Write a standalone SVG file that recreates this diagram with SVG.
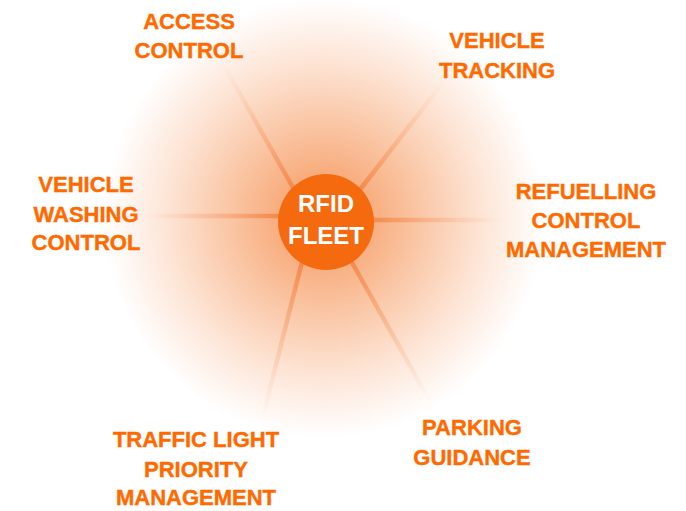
<svg xmlns="http://www.w3.org/2000/svg" width="686" height="511" viewBox="0 0 686 511">
<defs>
<radialGradient id="glow" cx="324" cy="218" r="220" gradientUnits="userSpaceOnUse">
<stop offset="0" stop-color="#F69456"/>
<stop offset="0.22" stop-color="#F8AE80"/>
<stop offset="0.45" stop-color="#FAC8A8"/>
<stop offset="0.7" stop-color="#FDE3D3"/>
<stop offset="0.88" stop-color="#FEF4EE"/>
<stop offset="1" stop-color="#FFFFFF"/>
</radialGradient>
<linearGradient id="gA" gradientUnits="userSpaceOnUse" x1="300" y1="200" x2="222" y2="62"><stop offset="0" stop-color="#F27A35" stop-opacity="0.85"/><stop offset="1" stop-color="#F9C09E" stop-opacity="0"/></linearGradient>
<linearGradient id="gB" gradientUnits="userSpaceOnUse" x1="352" y1="200" x2="445" y2="80"><stop offset="0" stop-color="#F27A35" stop-opacity="0.85"/><stop offset="1" stop-color="#F9C09E" stop-opacity="0"/></linearGradient>
<linearGradient id="gC" gradientUnits="userSpaceOnUse" x1="360" y1="220" x2="508" y2="220"><stop offset="0" stop-color="#F27A35" stop-opacity="0.85"/><stop offset="1" stop-color="#F9C09E" stop-opacity="0"/></linearGradient>
<linearGradient id="gD" gradientUnits="userSpaceOnUse" x1="290" y1="216" x2="140" y2="216"><stop offset="0" stop-color="#F27A35" stop-opacity="0.85"/><stop offset="1" stop-color="#F9C09E" stop-opacity="0"/></linearGradient>
<linearGradient id="gE" gradientUnits="userSpaceOnUse" x1="345" y1="250" x2="432" y2="405"><stop offset="0" stop-color="#F27A35" stop-opacity="0.85"/><stop offset="1" stop-color="#F9C09E" stop-opacity="0"/></linearGradient>
<linearGradient id="gF" gradientUnits="userSpaceOnUse" x1="305" y1="250" x2="262" y2="420"><stop offset="0" stop-color="#F27A35" stop-opacity="0.85"/><stop offset="1" stop-color="#F9C09E" stop-opacity="0"/></linearGradient>
</defs>
<style>
.lbl{font-family:"Liberation Sans",Arial,sans-serif;font-weight:bold;font-size:22px;fill:#FF6A00;stroke:#FF6A00;stroke-width:0.4;text-anchor:middle}
.ctr{font-family:"Liberation Sans",Arial,sans-serif;font-weight:bold;font-size:24px;fill:#FFFFFF;text-anchor:middle}
.spoke{stroke-width:4.5;stroke-linecap:round;fill:none}
</style>
<rect width="686" height="511" fill="#FFFFFF"/>
<circle cx="324" cy="218" r="220" fill="url(#glow)"/>
<g id="connectors">
<line class="spoke" x1="300" y1="200" x2="222" y2="62" stroke="url(#gA)"/>
<line class="spoke" x1="352" y1="200" x2="445" y2="80" stroke="url(#gB)"/>
<line class="spoke" x1="360" y1="220" x2="508" y2="220" stroke="url(#gC)"/>
<line class="spoke" x1="290" y1="216" x2="140" y2="216" stroke="url(#gD)"/>
<line class="spoke" x1="345" y1="250" x2="432" y2="405" stroke="url(#gE)"/>
<line class="spoke" x1="305" y1="250" x2="262" y2="420" stroke="url(#gF)"/>
</g>
<g id="center">
<circle cx="326" cy="222" r="48" fill="#F56A0E"/>
<text class="ctr" x="326" y="212">RFID</text>
<text class="ctr" x="326" y="244">FLEET</text>
</g>
<g id="access-control">
<text class="lbl" x="189" y="29">ACCESS</text>
<text class="lbl" x="189" y="58">CONTROL</text>
</g>
<g id="vehicle-tracking">
<text class="lbl" x="497" y="48">VEHICLE</text>
<text class="lbl" x="497" y="78">TRACKING</text>
</g>
<g id="refuelling">
<text class="lbl" x="586" y="199">REFUELLING</text>
<text class="lbl" x="586" y="228">CONTROL</text>
<text class="lbl" x="586" y="257">MANAGEMENT</text>
</g>
<g id="vehicle-washing">
<text class="lbl" x="86" y="192">VEHICLE</text>
<text class="lbl" x="86" y="222">WASHING</text>
<text class="lbl" x="86" y="250">CONTROL</text>
</g>
<g id="parking">
<text class="lbl" x="472" y="435">PARKING</text>
<text class="lbl" x="472" y="465">GUIDANCE</text>
</g>
<g id="traffic-light">
<text class="lbl" x="196" y="447">TRAFFIC LIGHT</text>
<text class="lbl" x="196" y="477">PRIORITY</text>
<text class="lbl" x="196" y="505">MANAGEMENT</text>
</g>
</svg>
